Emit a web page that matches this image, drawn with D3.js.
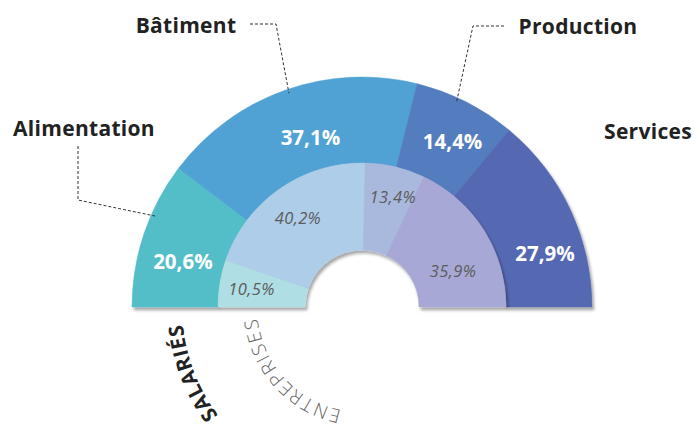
<!DOCTYPE html>
<html><head><meta charset="utf-8">
<script src="https://cdn.jsdelivr.net/npm/d3@7"></script>
<style>
html,body{margin:0;padding:0;background:#fff;}
svg{display:block;}
</style></head>
<body>
<svg id="chart" width="695" height="430"></svg>
<script>
// ---- data ----
const categories = ["Alimentation", "Bâtiment", "Production", "Services"];
const salaries = [20.6, 37.1, 14.4, 27.9];
const entreprises = [10.5, 40.2, 13.4, 35.9];
const ringNames = ["SALARIÉS", "ENTREPRISES"];
const outerColors = ["#53BEC8", "#50A2D3", "#527DBE", "#5467B2"];
const innerColors = ["#B0DEE5", "#AECDE8", "#A9B9DE", "#A7A8D5"];

// ---- layout ----
const W = 695, H = 430, cx = 362, cy = 307;
const R = {outer: 230, mid: 144, hole: 57};
const outerLabelT = [0.39, 0.54, 0.57, 0.67], outerLabelR = [185, 178, 189, 191];
const innerLabelT = [0.49, 0.49, 0.59, 0.665], innerLabelR = [112, 110, 115, 98];
const catLabels = [
  {x: 84, y: 128, leader: [[78,146],[78,200]], t: 0.64},
  {x: 186, y: 25, leader: [[250,24],[276,24]], t: 0.51},
  {x: 578, y: 26, leader: [[504,26],[473,26]], t: 0.42},
  {x: 648, y: 131, leader: null}
];
const fmt = v => d3.format(".1f")(v).replace(".", ",") + "%";

const svg = d3.select("#chart");
const defs = svg.append("defs");
const f = defs.append("filter").attr("id","sh").attr("x","-10%").attr("y","-10%").attr("width","120%").attr("height","130%");
f.append("feDropShadow").attr("dx",2).attr("dy",3).attr("stdDeviation",1.6).attr("flood-color","#000").attr("flood-opacity",0.35);

const g = svg.append("g").attr("transform", `translate(${cx},${cy})`);
const pie = d3.pie().sort(null).startAngle(-Math.PI/2).endAngle(Math.PI/2);
const outerArcs = pie(salaries), innerArcs = pie(entreprises);
const arcOuter = d3.arc().innerRadius(R.mid).outerRadius(R.outer);
const arcInner = d3.arc().innerRadius(R.hole).outerRadius(R.mid);

g.append("g").attr("filter","url(#sh)").selectAll("path").data(outerArcs).join("path")
  .attr("d", arcOuter).attr("fill", (d,i) => outerColors[i]).attr("stroke",(d,i)=>outerColors[i]).attr("stroke-width",0.5);
g.append("g").attr("filter","url(#sh)").selectAll("path").data(innerArcs).join("path")
  .attr("d", arcInner).attr("fill", (d,i) => innerColors[i]).attr("stroke",(d,i)=>innerColors[i]).attr("stroke-width",0.5);

const pt = (a, r) => [r*Math.sin(a), -r*Math.cos(a)];
const at = (d, t) => d.startAngle + t*(d.endAngle - d.startAngle);

// outer value labels
g.selectAll("text.ov").data(outerArcs).join("text").attr("class","ov")
  .attr("transform",(d,i)=>{const p=pt(at(d,outerLabelT[i]),outerLabelR[i]);return `translate(${p[0]},${p[1]})`;})
  .attr("text-anchor","middle").attr("dominant-baseline","central")
  .attr("font-family","'Open Sans', sans-serif").attr("font-weight",700).attr("font-size",20.5)
  .attr("fill","#fff").text(d=>fmt(d.data));

// inner value labels
g.selectAll("text.iv").data(innerArcs).join("text").attr("class","iv")
  .attr("transform",(d,i)=>{const p=pt(at(d,innerLabelT[i]),innerLabelR[i]);return `translate(${p[0]},${p[1]})`;})
  .attr("text-anchor","middle").attr("dominant-baseline","central")
  .attr("font-family","'Open Sans', sans-serif").attr("font-style","italic").attr("font-weight",400).attr("font-size",16.5)
  .attr("letter-spacing",0.4).attr("fill","#5c5c5c").text(d=>fmt(d.data));

// category labels + leaders
categories.forEach((c,i)=>{
  const L = catLabels[i];
  svg.append("text").attr("x",L.x).attr("y",L.y).attr("text-anchor","middle").attr("dominant-baseline","central")
    .attr("font-family","'Open Sans', sans-serif").attr("font-weight",700).attr("font-size",21)
    .attr("letter-spacing",0.3).attr("fill","#222").text(c);
  if (L.leader){
    const p = pt(at(outerArcs[i], L.t), 226);
    const pts = L.leader.concat([[cx+p[0], cy+p[1]]]);
    svg.append("path").attr("d", d3.line()(pts)).attr("fill","none")
      .attr("stroke","#333").attr("stroke-width",1).attr("stroke-dasharray","3,2");
  }
});

// ring names along curved paths (bottom -> left, clockwise)
const ringText = [
  {r: 180, size: 20.5, weight: 700, fill: "#222", ls: 0.6, family: "'Open Sans', sans-serif"},
  {r: 105, size: 19, weight: 300, fill: "#666", ls: 1.8, family: "'Open Sans', sans-serif"}
];
const endAngleDeg = 84.5;
ringNames.forEach((name,i)=>{
  const s = ringText[i];
  const id = "rp"+i;
  defs.append("path").attr("id",id)
    .attr("d", `M${cx},${cy+s.r} A${s.r},${s.r} 0 0 1 ${cx-s.r},${cy}`);
  svg.append("text").attr("font-family",s.family).attr("font-weight",s.weight).attr("font-size",s.size)
    .attr("fill",s.fill).attr("letter-spacing",s.ls)
    .append("textPath").attr("href","#"+id)
    .attr("startOffset", (s.r*endAngleDeg*Math.PI/180).toFixed(1))
    .attr("text-anchor","end").text(name);
});
</script>
</body></html>
